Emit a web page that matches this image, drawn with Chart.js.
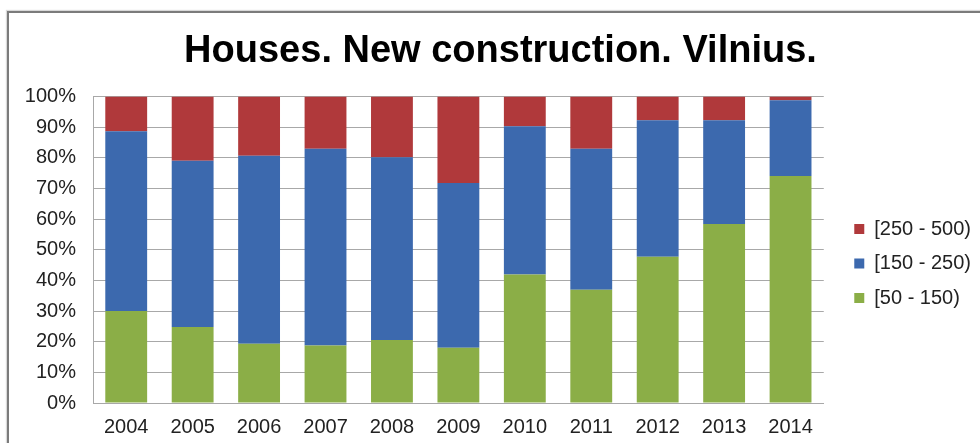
<!DOCTYPE html>
<html>
<head>
<meta charset="utf-8">
<title>Houses. New construction. Vilnius.</title>
<script src="https://cdn.jsdelivr.net/npm/chart.js@4/dist/chart.umd.min.js"></script>
<style>
  html, body { margin: 0; padding: 0; background: #ffffff; overflow: hidden; }
  #wrap { position: relative; width: 980px; height: 443px; overflow: hidden; }
  #frame {
    position: absolute; left: 7px; top: 11px; width: 1100px; height: 600px;
    border-left: 2px solid #7b7b7b; border-top: 2px solid #7b7b7b;
    box-shadow: -1px -1px 1px rgba(0,0,0,0.15);
  }
  canvas { position: absolute; left: 0; top: 0; }
</style>
</head>
<body>
<div id="wrap">
  <div id="frame"></div>
  <canvas id="chart" width="980" height="443"></canvas>
</div>
<script>
// Share of new houses by floor area (m²), per year, in percent
const years = ['2004', '2005', '2006', '2007', '2008', '2009', '2010', '2011', '2012', '2013', '2014'];
const area50to150  = [30.0, 24.8, 19.3, 18.8, 20.6, 18.0, 41.9, 37.0, 47.7, 58.4, 74.1];
const area150to250 = [58.7, 54.3, 61.4, 64.2, 59.6, 53.8, 48.4, 46.0, 44.6, 33.9, 24.7];
const area250to500 = [11.3, 20.9, 19.3, 17.0, 19.8, 28.2,  9.7, 17.0,  7.7,  7.7,  1.2];
const seriesNames = ['[50 - 150)', '[150 - 250)', '[250 - 500)'];
const yTicks = [0, 10, 20, 30, 40, 50, 60, 70, 80, 90, 100];

const FONT = "'Liberation Sans', Arial, Helvetica, sans-serif";
Chart.defaults.font.family = FONT;
Chart.defaults.color = '#222222';

const GRID = '#a8a8a8';

// shifts the title and the legend block slightly after layout
const boxNudge = {
  id: 'boxNudge',
  afterLayout(chart, args, opts) {
    const move = (box, d) => {
      if (!box || !d) return;
      box.left += d.dx || 0; box.right += d.dx || 0;
      box.top += d.dy || 0; box.bottom += d.dy || 0;
    };
    move(chart.legend, opts.legend);
    move(chart.titleBlock, opts.title);
  }
};

new Chart(document.getElementById('chart'), {
  type: 'bar',
  data: {
    labels: years,
    datasets: [
      { label: seriesNames[0], data: area50to150,  backgroundColor: '#8bae47', borderWidth: 0 },
      { label: seriesNames[1], data: area150to250, backgroundColor: '#3c69ae', borderWidth: 0 },
      { label: seriesNames[2], data: area250to500, backgroundColor: '#b0393b', borderWidth: 0 }
    ]
  },
  plugins: [boxNudge],
  options: {
    responsive: false,
    animation: false,
    devicePixelRatio: 1,
    datasets: { bar: { categoryPercentage: 1.0, barPercentage: 0.63 } },
    layout: { padding: { left: 22, right: 15, top: 0, bottom: 0 } },
    scales: {
      x: {
        stacked: true,
        grid: { display: false, drawTicks: false },
        border: { display: true, color: GRID, width: 1 },
        ticks: { font: { size: 20 }, color: '#222222', padding: 12 },
        afterFit(scale) { scale.height = 40; }
      },
      y: {
        stacked: true,
        min: 0,
        max: 100,
        afterBuildTicks(scale) { scale.ticks = yTicks.map(v => ({ value: v })); },
        grid: { color: GRID, lineWidth: 1, drawTicks: false },
        border: { display: true, color: GRID, width: 1 },
        ticks: { font: { size: 20 }, color: '#222222', padding: 17, callback: v => v + '%' },
        afterFit(scale) { scale.width = 71; }
      }
    },
    plugins: {
      title: {
        display: true,
        text: 'Houses. New construction. Vilnius.',
        color: '#000000',
        font: { size: 38, weight: 'bold', family: FONT },
        padding: { top: 29, bottom: 22 }
      },
      legend: {
        position: 'right',
        align: 'center',
        reverse: true,
        labels: {
          font: { size: 20 },
          color: '#222222',
          boxWidth: 10,
          boxHeight: 10,
          padding: 14.5
        }
      },
      boxNudge: { legend: { dx: 16, dy: 42 }, title: { dx: 7, dy: 0 } },
      tooltip: { enabled: false }
    }
  }
});
</script>
</body>
</html>
